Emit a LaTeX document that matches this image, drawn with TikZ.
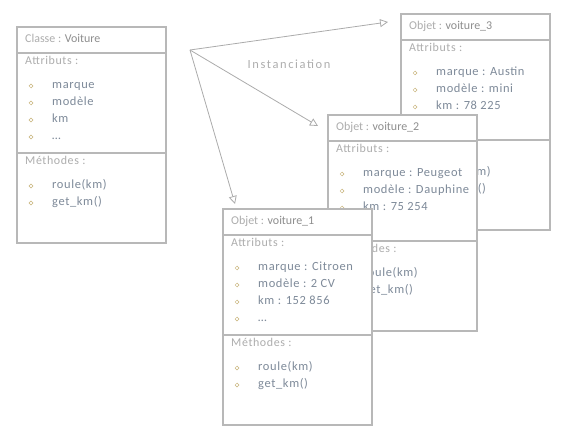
\documentclass[tikz,border=0pt]{standalone}
\usepackage{fontspec}
\setmainfont{Carlito}
\usepackage{xcolor}
\usepackage{tikz}
\usetikzlibrary{arrows.meta,positioning}

\definecolor{linegray}{HTML}{B8B8B8}
\definecolor{labelgray}{HTML}{ADADAD}
\definecolor{namegray}{HTML}{8E8E8E}
\definecolor{itemblue}{HTML}{7E8A99}
\definecolor{dotolive}{HTML}{C8B47A}
\definecolor{arrowgray}{HTML}{ABABAB}

\tikzset{
  umlouter/.style={draw=linegray, fill=white, line width=0.8bp, anchor=north west,
    inner sep=0, minimum width=150bp, minimum height=217bp},
  umlpart/.style={draw=linegray, line width=0.8bp, anchor=north west,
    inner sep=0, minimum width=148bp},
  headtext/.style={anchor=west, inner sep=0, text=namegray,
    font=\fontsize{12}{14}\selectfont, text height=1.6ex, text depth=.4ex},
  partlabel/.style={headtext, text=labelgray,
    font=\fontsize{12}{14}\selectfont\addfontfeatures{LetterSpace=5}},
  itemtext/.style={headtext, text=itemblue,
    font=\fontsize{12.5}{14}\selectfont\addfontfeatures{LetterSpace=5}},
  itemdot/.style={circle, draw=dotolive, line width=0.5bp, inner sep=0, minimum size=3.8bp},
  instarrow/.style={draw=arrowgray, line width=0.8bp,
    -{Triangle[open, length=8bp, width=8bp]}}
}

% one class / object box: name, x, y, kind, title, attributes, methods
\newcommand{\umlbox}[7]{%
  \begin{scope}[shift={(#2,#3)}]
    \node[umlouter] (#1) at (0,0) {};
    \node[umlpart, minimum height=25bp] (#1-head) at (1,1) {};
    \node[umlpart, minimum height=99bp] (#1-attr) at (1,27) {};
    \node[umlpart, minimum height=89bp] (#1-meth) at (1,127) {};
    \node[headtext] (#1-title) at (9,13.5) {\textcolor{labelgray}{#4 :} #5};
    \node[partlabel] (#1-alabel) at (9,35.5) {Attributs :};
    \foreach \txt [count=\i] in {#6} {
      \node[itemdot] (#1-ad\i) at (15,43+17*\i) {};
      \node[itemtext] (#1-a\i) at (36,43+17*\i) {\txt};
    }
    \node[partlabel] (#1-mlabel) at (9,136) {Méthodes :};
    \foreach \txt [count=\i] in {#7} {
      \node[itemdot] (#1-md\i) at (15,143+17*\i) {};
      \node[itemtext] (#1-m\i) at (36,143+17*\i) {\txt};
    }
  \end{scope}}

\begin{document}
\begin{tikzpicture}[x=1bp, y=-1bp]
    \useasboundingbox (0,0) rectangle (570,438);

    % Class
    \umlbox{voiture}{16}{26}{Classe}{Voiture}{marque, modèle, km, …}{roule(km), get\_km()}

    % Objects, back to front
    \umlbox{voiture3}{400}{13}{Objet}{voiture\_3}{marque : Austin, modèle : mini, km : 78 225, …}{roule(km), get\_km()}
    \umlbox{voiture2}{327}{114}{Objet}{voiture\_2}{marque : Peugeot, modèle : Dauphine, km : 75 254, …}{roule(km), get\_km()}
    \umlbox{voiture1}{222}{208}{Objet}{voiture\_1}{marque : Citroen, modèle : 2 CV, km : 152 856, …}{roule(km), get\_km()}

    % Instanciation arrows
    \coordinate (src) at (190,50);
    \coordinate (tip3) at (388,22);
    \coordinate (tip2) at (318,126);
    \coordinate (tip1) at (235,204);
    \draw[instarrow] (src) -- (tip3);
    \draw[instarrow] (src) -- (tip2);
    \draw[instarrow] (src) -- (tip1);
    \node[text=labelgray, font=\fontsize{12.5}{14}\selectfont\addfontfeatures{LetterSpace=13}] (inst) at (289,64) {Instanciation};
\end{tikzpicture}
\end{document}
